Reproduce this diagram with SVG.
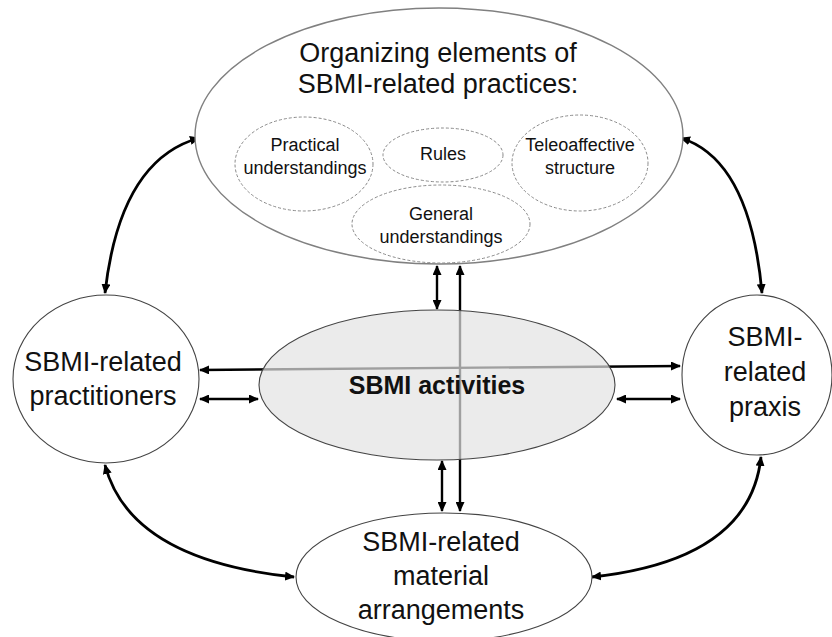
<svg xmlns="http://www.w3.org/2000/svg" width="832" height="637" viewBox="0 0 832 637">
  <style>
    .t { font-family: "Liberation Sans", Arial, sans-serif; fill: #111; text-anchor: middle; }
    .big { font-size: 27px; }
    .small { font-size: 18px; }
    .bold { font-size: 25px; font-weight: bold; }
    .node { fill: #fff; stroke: #444; stroke-width: 1.1; }
    .outer { fill: #fff; stroke: #808080; stroke-width: 1.4; }
    .dash { fill: none; stroke: #8a8a8a; stroke-width: 1; stroke-dasharray: 3 2; }
    .arr { fill: none; stroke: #000; stroke-width: 2.4; marker-start: url(#ah); marker-end: url(#ah); }
    .curve { fill: none; stroke: #000; stroke-width: 2.8; marker-start: url(#ah); marker-end: url(#ah); }
  </style>
  <defs>
    <marker id="ah" markerUnits="userSpaceOnUse" markerWidth="10" markerHeight="9" refX="9" refY="4.5" orient="auto-start-reverse">
      <path d="M0,0 L10,4.5 L0,9 Z" fill="#000"/>
    </marker>
  </defs>
  <rect width="832" height="637" fill="#fff"/>

  <g id="connectors">
    <path class="curve" d="M199,138 Q120,160 105,293"/>
    <path class="curve" d="M681,138 Q750,160 762,293"/>
    <path class="curve" d="M105,465 Q130,560 294,577"/>
    <path class="curve" d="M592,577 Q750,560 761,457"/>
    <line class="arr" x1="200" y1="370" x2="680" y2="366"/>
    <line class="arr" x1="460" y1="266" x2="460" y2="511"/>
    <line class="arr" x1="437" y1="266" x2="437" y2="309"/>
    <line class="arr" x1="442" y1="461" x2="442" y2="511"/>
    <line class="arr" x1="200" y1="399" x2="258" y2="399"/>
    <line class="arr" x1="617" y1="399" x2="680" y2="399"/>
  </g>

  <g id="organizing-elements">
    <ellipse class="outer" cx="439" cy="136" rx="244" ry="128"/>
    <text class="t big" x="438" y="62">Organizing elements of</text>
    <text class="t big" x="438" y="93">SBMI-related practices:</text>
  </g>
  <g id="practical-understandings">
    <ellipse class="dash" cx="304" cy="164" rx="69" ry="47"/>
    <text class="t small" x="305" y="151">Practical</text>
    <text class="t small" x="305" y="174">understandings</text>
  </g>
  <g id="rules">
    <ellipse class="dash" cx="443" cy="155" rx="60" ry="27"/>
    <text class="t small" x="443" y="160">Rules</text>
  </g>
  <g id="teleoaffective-structure">
    <ellipse class="dash" cx="580" cy="163" rx="68" ry="48"/>
    <text class="t small" x="580" y="151">Teleoaffective</text>
    <text class="t small" x="580" y="174">structure</text>
  </g>
  <g id="general-understandings">
    <ellipse class="dash" cx="441" cy="224" rx="89" ry="39"/>
    <text class="t small" x="441" y="220">General</text>
    <text class="t small" x="441" y="243">understandings</text>
  </g>

  <g id="sbmi-activities">
    <ellipse cx="437" cy="385" rx="178" ry="75" fill="#e3e3e3" fill-opacity="0.7" stroke="#444" stroke-width="1.1"/>
    <text class="t bold" x="437" y="394">SBMI activities</text>
  </g>

  <g id="practitioners">
    <ellipse class="node" cx="106" cy="379" rx="93" ry="84"/>
    <text class="t big" x="103" y="371">SBMI-related</text>
    <text class="t big" x="103" y="405">practitioners</text>
  </g>

  <g id="praxis">
    <ellipse class="node" cx="757" cy="375" rx="75" ry="80"/>
    <text class="t big" x="765" y="346">SBMI-</text>
    <text class="t big" x="765" y="381">related</text>
    <text class="t big" x="765" y="416">praxis</text>
  </g>

  <g id="material-arrangements">
    <ellipse class="node" cx="444" cy="577" rx="148" ry="64"/>
    <text class="t big" x="441" y="551">SBMI-related</text>
    <text class="t big" x="441" y="585">material</text>
    <text class="t big" x="441" y="619">arrangements</text>
  </g>
</svg>
